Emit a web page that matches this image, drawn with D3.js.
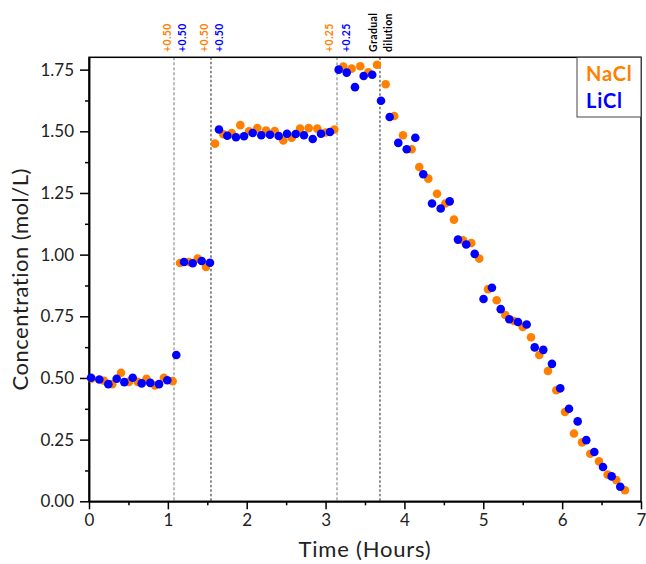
<!DOCTYPE html>
<html>
<head>
<meta charset="utf-8">
<script src="https://cdn.jsdelivr.net/npm/d3@7"></script>
<style>
  html, body { margin: 0; padding: 0; background: #fff; }
  svg { display: block; }
  text { font-family: "Lato", "DejaVu Sans", sans-serif; }
</style>
</head>
<body>
<svg id="chart" width="646" height="564"></svg>
<script>
// ---- Data ----
const naclTime = [0.034,0.19,0.295,0.406,0.507,0.618,0.729,0.836,0.95,1.061,
  1.154,1.268,1.378,1.484,
  1.598,1.703,1.810,1.919,2.029,2.134,2.245,2.355,2.464,2.570,2.676,2.786,2.895,3.002,3.111,
  3.225,3.331,3.440,3.542,3.652,
  3.762,3.871,3.982,4.092,4.188,4.303,4.413,4.518,4.628,4.743,4.848,4.949,5.060,5.170,5.279,5.389,5.500,5.605,5.710,5.820,5.926,6.036,6.150,6.252,6.357,6.467,6.577,6.687,6.797];
const naclConc = [0.498,0.489,0.475,0.521,0.484,0.484,0.497,0.470,0.501,0.487,
  0.966,0.970,0.984,0.950,
  1.450,1.488,1.493,1.525,1.500,1.513,1.503,1.501,1.463,1.474,1.511,1.513,1.511,1.495,1.507,
  1.763,1.754,1.764,1.739,1.770,
  1.691,1.562,1.484,1.427,1.355,1.308,1.247,1.207,1.142,1.058,1.047,0.984,0.860,0.815,0.755,0.731,0.707,0.665,0.593,0.528,0.450,0.362,0.275,0.239,0.193,0.162,0.108,0.086,0.045];

const liclTime = [0.025,0.131,0.245,0.351,0.448,0.554,0.668,0.777,0.888,0.993,1.107,
  1.205,1.315,1.429,1.534,
  1.648,1.754,1.864,1.966,2.076,2.185,2.295,2.406,2.511,2.621,2.726,2.837,2.942,3.056,
  3.166,3.268,3.373,3.483,3.592,
  3.703,3.813,3.922,4.029,4.138,4.239,4.350,4.460,4.574,4.679,4.784,4.891,5.003,5.110,5.221,5.330,5.440,5.550,5.652,5.761,5.871,5.976,6.087,6.197,6.306,6.408,6.518,6.628,6.737];
const liclConc = [0.501,0.494,0.475,0.497,0.483,0.501,0.478,0.480,0.475,0.491,0.593,
  0.970,0.965,0.974,0.967,
  1.507,1.482,1.476,1.480,1.493,1.484,1.486,1.481,1.490,1.489,1.484,1.469,1.490,1.497,
  1.750,1.738,1.679,1.724,1.729,
  1.624,1.558,1.453,1.427,1.474,1.326,1.207,1.187,1.216,1.061,1.041,1.003,0.820,0.866,0.779,0.738,0.727,0.717,0.624,0.614,0.557,0.458,0.375,0.324,0.248,0.200,0.139,0.101,0.059];

const xTicks = [0,1,2,3,4,5,6,7];
const yTicks = [0,0.25,0.5,0.75,1.0,1.25,1.5,1.75];
const eventTimes = [1.078, 1.547, 3.145, 3.69];
const eventDark = [false, true, false, true];
const annotLabels = ["+0.50","+0.50","+0.50","+0.50","+0.25","+0.25","Gradual","dilution"];
const annotTimes = [0.995, 1.178, 1.456, 1.651, 3.047, 3.268, 3.605, 3.795];
const annotSeries = ["NaCl","LiCl","NaCl","LiCl","NaCl","LiCl","none","none"];
const seriesNames = ["NaCl","LiCl"];
const colors = {NaCl: "#ff8000", LiCl: "#0000ff", none: "#000"};

// ---- Layout ----
const svg = d3.select("#chart");
const mLeft = 89, mRight = 641, mTop = 57.3, mBottom = 501.3;
const x = d3.scaleLinear().domain([0,7]).range([mLeft,mRight]);
const y = d3.scaleLinear().domain([0,1.8]).range([mBottom,mTop]);

// event lines
svg.append("g").selectAll("line").data(eventTimes).join("line")
  .attr("x1", d => x(d)).attr("x2", d => x(d))
  .attr("y1", mTop).attr("y2", mBottom)
  .attr("stroke", (d,i) => eventDark[i] ? "#222" : "#777")
  .attr("stroke-width", 1)
  .attr("stroke-dasharray", (d,i) => eventDark[i] ? "2.5,2" : "3,2");

// frame
svg.append("rect").attr("x", mLeft).attr("y", mTop)
  .attr("width", mRight-mLeft).attr("height", mBottom-mTop)
  .attr("fill", "none").attr("stroke", "#000").attr("stroke-width", 1.5);

// axes
const xAxis = svg.append("g").attr("transform", `translate(0,${mBottom})`)
  .call(d3.axisBottom(x).tickValues(xTicks).tickFormat(d3.format("d")).tickSize(8).tickSizeOuter(0).tickPadding(5));
const xMinor = svg.append("g").attr("transform", `translate(0,${mBottom})`)
  .call(d3.axisBottom(x).tickValues(d3.range(0.5,7,1)).tickFormat("").tickSize(4).tickSizeOuter(0));
const yAxis = svg.append("g").attr("transform", `translate(${mLeft},0)`)
  .call(d3.axisLeft(y).tickValues(yTicks).tickFormat(d3.format(".2f")).tickSize(9).tickSizeOuter(0).tickPadding(6));
const yMinor = svg.append("g").attr("transform", `translate(${mLeft},0)`)
  .call(d3.axisLeft(y).tickValues(d3.range(0.125,1.8,0.25)).tickFormat("").tickSize(4).tickSizeOuter(0));
[xAxis,xMinor,yAxis,yMinor].forEach(g => {
  g.select(".domain").attr("stroke-width", 1.5);
  g.selectAll(".tick line").attr("stroke-width", 1.5);
  g.selectAll(".tick text").attr("font-size", 17).attr("fill", "#222")
   .style("font-family", "Lato, 'DejaVu Sans', sans-serif");
});

// axis titles
svg.append("text").attr("x", (mLeft+mRight)/2).attr("y", 557)
  .attr("text-anchor", "middle").attr("font-size", 22).attr("letter-spacing", 0.8)
  .attr("fill", "#222").text("Time (Hours)");
svg.append("text").attr("transform", `translate(28,${(mTop+mBottom)/2}) rotate(-90)`)
  .attr("text-anchor", "middle").attr("font-size", 22).attr("letter-spacing", 0.5)
  .attr("fill", "#222").text("Concentration (mol/L)");

// points
const nacl = naclTime.map((t,i) => ({t, c: naclConc[i]}));
const licl = liclTime.map((t,i) => ({t, c: liclConc[i]}));
svg.append("g").selectAll("circle").data(nacl).join("circle")
  .attr("cx", d => x(d.t)).attr("cy", d => y(d.c)).attr("r", 4.3)
  .attr("fill", colors.NaCl);
svg.append("g").selectAll("circle").data(licl).join("circle")
  .attr("cx", d => x(d.t)).attr("cy", d => y(d.c)).attr("r", 4.3)
  .attr("fill", colors.LiCl);

// annotations
svg.append("g").selectAll("text").data(annotLabels).join("text")
  .attr("transform", (d,i) => `translate(${x(annotTimes[i])},52) rotate(-90)`)
  .attr("dy", "0.35em").attr("text-anchor", "start")
  .attr("font-size", 10.5).attr("font-weight", "bold").attr("letter-spacing", 0.4)
  .attr("fill", (d,i) => colors[annotSeries[i]]).text(d => d);

// legend
const lg = svg.append("g");
lg.append("rect").attr("x", 577).attr("y", mTop).attr("width", mRight-577).attr("height", 117-mTop)
  .attr("fill", "#fff").attr("stroke", "#444").attr("stroke-width", 1);
lg.selectAll("text").data(seriesNames).join("text")
  .attr("x", 586).attr("y", (d,i) => 81 + i*27)
  .attr("font-size", 20).attr("font-weight", "bold").attr("letter-spacing", 0.8)
  .attr("fill", d => colors[d]).text(d => d);
</script>
</body>
</html>
